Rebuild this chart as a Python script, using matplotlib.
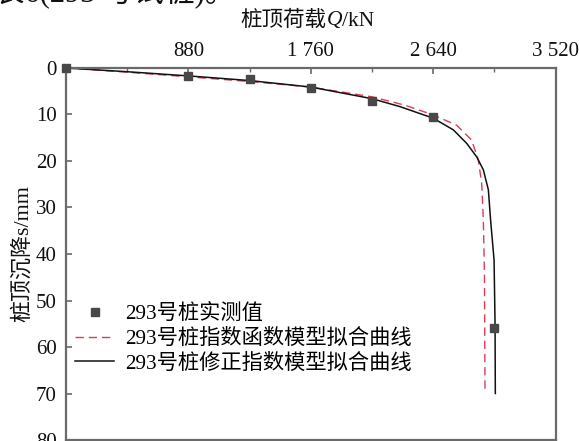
import matplotlib
matplotlib.use("Agg")
import matplotlib.pyplot as plt
from matplotlib.ticker import FixedLocator, MultipleLocator

plt.rcParams['font.family'] = ['Liberation Serif', 'Noto Sans CJK SC']

# ---- data ----
meas_Q = [0, 880, 1320, 1760, 2200, 2640, 3080]
meas_s = [0, 1.7, 2.3, 4.2, 7.0, 10.5, 55.9]

exp_Q = [0, 440, 880, 1320, 1760, 2200, 2437, 2640, 2808, 2916, 2964, 2988, 3000, 3008, 3012]
exp_s = [0, 0.9, 1.9, 2.9, 4.1, 6.2, 8.0, 10.1, 12.3, 15.5, 19.8, 24.8, 32.7, 45.0, 70.0]

mod_Q = [0, 440, 880, 1320, 1760, 2200, 2400, 2640, 2784, 2880, 2952, 3000, 3036, 3052, 3077, 3084, 3086]
mod_s = [0, 0.8, 1.7, 2.7, 4.1, 6.6, 8.3, 10.8, 13.3, 16.2, 19.1, 21.9, 26.2, 32.7, 41.3, 55.0, 70.0]

x_ticks = [880, 1760, 2640, 3520]
x_ticklabels = ['880', '1 760', '2 640', '3 520']
y_ticks = [0, 10, 20, 30, 40, 50, 60, 70, 80]

labels = ['293号桩实测值', '293号桩指数函数模型拟合曲线', '293号桩修正指数模型拟合曲线']

W, H = 580, 441
fig = plt.figure(figsize=(W / 100, H / 100), dpi=100)
ax = fig.add_axes([66 / W, 1 - 440 / H, (555.7 - 66) / W, (440 - 68) / H])

h1, = ax.plot(meas_Q, meas_s, linestyle='none', marker='s', markersize=6,
              color='#484848', clip_on=False, zorder=5, label=labels[0])
h2, = ax.plot(exp_Q, exp_s, color='#dc3c55', linewidth=1.0, dashes=(6, 3.5),
              label=labels[1])
h3, = ax.plot(mod_Q, mod_s, color='#111111', linewidth=1.1, label=labels[2])

ax.set_xlim(0, 3520)
ax.set_ylim(80, 0)
ax.xaxis.tick_top()
ax.xaxis.set_major_locator(FixedLocator(x_ticks))
ax.set_xticklabels(x_ticklabels)
ax.xaxis.set_minor_locator(MultipleLocator(440))
ax.yaxis.set_major_locator(FixedLocator(y_ticks))

spine_col = '#6a6a6a'
for sp in ax.spines.values():
    sp.set_color(spine_col)
    sp.set_linewidth(1.6)
ax.tick_params(axis='both', which='major', direction='in', length=4, width=1.2,
               color=spine_col, labelsize=15, labelcolor='#111111')
ax.tick_params(axis='x', which='major', pad=5)
ax.tick_params(axis='y', which='major', pad=6.5)
ax.tick_params(axis='x', which='minor', direction='in', length=3, width=1.0,
               color=spine_col, top=True, bottom=False)

ax.set_ylabel('桩顶沉降s/mm', fontsize=15.8, labelpad=2, color='#111111')

leg = ax.legend(handles=[h1, h2, h3], loc='upper left',
                bbox_to_anchor=(75 / W, 1 - 304 / H), bbox_transform=fig.transFigure,
                frameon=False, fontsize=15.3, handlelength=1.85, handletextpad=0.5,
                labelspacing=0.23, borderpad=0, borderaxespad=0, numpoints=1,
                markerscale=0.85)

# x axis label on top, built from pieces (italic Q)
fig.canvas.draw()
r = fig.canvas.get_renderer()
parts = [('桩顶荷载', 'normal'), ('Q', 'italic'), ('/kN', 'normal')]
texts = []
for s, st in parts:
    t = fig.text(0, 1 - 25.5 / H, s, fontsize=15.5, style=st, va='baseline', ha='left',
                 color='#111111')
    texts.append(t)
widths = [t.get_window_extent(r).width for t in texts]
total = sum(widths)
xpos = 307.5 - total / 2
for t, w in zip(texts, widths):
    t.set_x(xpos / W)
    xpos += w

# partially visible body text at the very top of the crop
fig.text(-6 / W, 1 - 2 / H, '表6(293 号试桩)。', fontsize=22, va='baseline', ha='left',
         color='#111111')

fig.savefig('out.png', dpi=100)
